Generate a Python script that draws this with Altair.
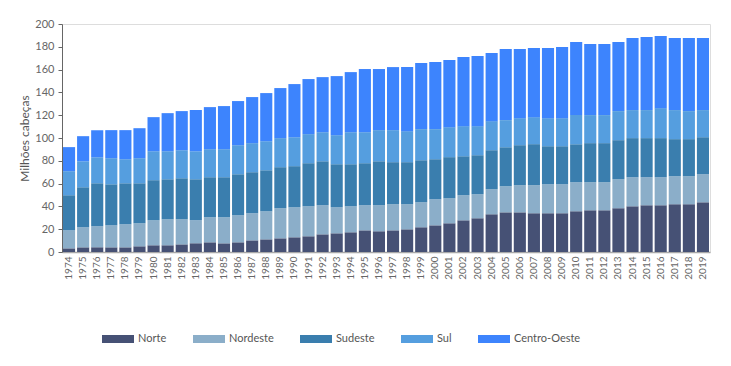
import altair as alt
import pandas as pd

anos = [str(a) for a in range(1974, 2020)]
regioes = ["Norte", "Nordeste", "Sudeste", "Sul", "Centro-Oeste"]
cores = ["#465175", "#8baec9", "#3a7eae", "#559edf", "#3d84fd"]

norte = [3.2, 4.1, 4.1, 4.1, 4.1, 5.0, 5.9, 5.9, 6.7, 7.6, 8.5, 7.6, 8.5, 10.2, 11.1,
         12.0, 12.9, 13.8, 15.5, 16.4, 17.3, 19.0, 18.2, 19.0, 19.9, 21.7, 23.4, 25.2,
         27.8, 29.6, 33.1, 34.8, 34.8, 34.0, 34.0, 34.0, 35.7, 36.6, 36.6, 38.4, 40.1,
         41.0, 41.0, 41.9, 41.9, 43.6]
nordeste = [15.8, 17.6, 18.4, 19.3, 20.2, 20.2, 21.9, 22.8, 22.0, 20.2, 22.0, 22.9, 23.7,
            23.8, 24.6, 26.4, 26.3, 26.3, 25.5, 22.8, 22.8, 22.0, 22.8, 22.9, 22.0, 21.9,
            22.9, 21.9, 22.0, 21.1, 22.0, 22.9, 23.8, 24.6, 25.4, 25.4, 25.5, 24.6, 24.6,
            25.4, 25.5, 24.6, 24.6, 24.6, 24.6, 24.6]
sudeste = [30.8, 35.1, 37.8, 36.0, 36.0, 35.1, 35.2, 35.1, 36.0, 36.0, 35.1, 35.1, 36.0,
           36.0, 36.0, 36.0, 36.1, 37.8, 38.6, 37.8, 36.9, 36.9, 38.6, 36.9, 36.9, 36.9,
           35.1, 36.1, 34.2, 34.2, 34.2, 34.2, 35.1, 36.0, 33.4, 33.4, 33.4, 34.3, 34.3,
           34.3, 34.3, 34.3, 34.3, 32.5, 32.5, 32.5]
sul = [21.1, 22.8, 22.9, 22.9, 21.1, 22.0, 25.4, 24.6, 24.6, 24.6, 24.6, 24.6, 25.5, 25.5,
       25.5, 25.5, 25.4, 25.5, 25.5, 25.5, 28.1, 27.2, 27.3, 28.1, 27.2, 27.3, 26.4, 26.3,
       26.4, 25.5, 25.5, 23.8, 23.7, 23.7, 24.6, 24.6, 25.5, 24.6, 24.6, 25.5, 24.6, 24.6,
       26.3, 25.5, 24.6, 23.8]
centro_oeste = [21.1, 22.0, 23.7, 24.6, 25.5, 26.3, 29.9, 33.4, 34.3, 36.1, 36.9, 37.8,
                38.7, 40.4, 42.2, 43.9, 46.6, 48.3, 48.3, 51.8, 52.7, 55.4, 53.6, 55.3,
                56.2, 57.9, 58.8, 58.9, 60.6, 61.5, 59.7, 62.3, 60.6, 60.6, 61.5, 62.4,
                64.1, 62.3, 62.3, 60.6, 63.2, 64.1, 63.3, 63.2, 64.1, 63.2]

series = [norte, nordeste, sudeste, sul, centro_oeste]
rows = []
for i, (reg, vals) in enumerate(zip(regioes, series)):
    for ano, v in zip(anos, vals):
        rows.append({"ano": ano, "regiao": reg, "valor": v, "ordem": i})
df = pd.DataFrame(rows)

FONT = "Lato"

chart = alt.Chart(df).mark_bar().encode(
    x=alt.X("ano:O", sort=anos,
            scale=alt.Scale(paddingInner=0.14, paddingOuter=0.07),
            axis=alt.Axis(title=None, labelAngle=270, labelFontSize=10,
                          labelColor="#666", ticks=False, domainColor="#a8a8a8",
                          domainWidth=1.5, labelPadding=4, labelFont=FONT)),
    y=alt.Y("valor:Q", stack="zero",
            scale=alt.Scale(domain=[0, 200], nice=False),
            axis=alt.Axis(values=list(range(0, 201, 20)), grid=False,
                          title="Milhões cabeças", titleFontWeight="normal",
                          titleFontSize=12, titleColor="#555", titleFont=FONT,
                          labelColor="#666", labelFontSize=11, labelFont=FONT,
                          tickSize=4, tickColor="#666", domainColor="#666",
                          labelPadding=4, titlePadding=3)),
    color=alt.Color("regiao:N",
                    scale=alt.Scale(domain=regioes, range=cores),
                    legend=alt.Legend(title=None, orient="none", legendX=40, legendY=299,
                                      direction="horizontal",
                                      symbolType="M-1,-0.25L1,-0.25L1,0.25L-1,0.25Z",
                                      symbolSize=1024, symbolStrokeWidth=0,
                                      labelFontSize=11, labelColor="#555",
                                      labelFont=FONT, labelOffset=4,
                                      columnPadding=26)),
    order=alt.Order("ordem:Q", sort="ascending"),
    tooltip=["ano", "regiao", "valor"],
).properties(
    width=648, height=228,
    autosize=alt.AutoSizeParams(type="none"),
    padding={"left": 54, "top": 16, "right": 12, "bottom": 110},
).configure_view(stroke=None).configure(background="white")

chart.save("out.html", embed_options={"renderer": "svg", "actions": False})
